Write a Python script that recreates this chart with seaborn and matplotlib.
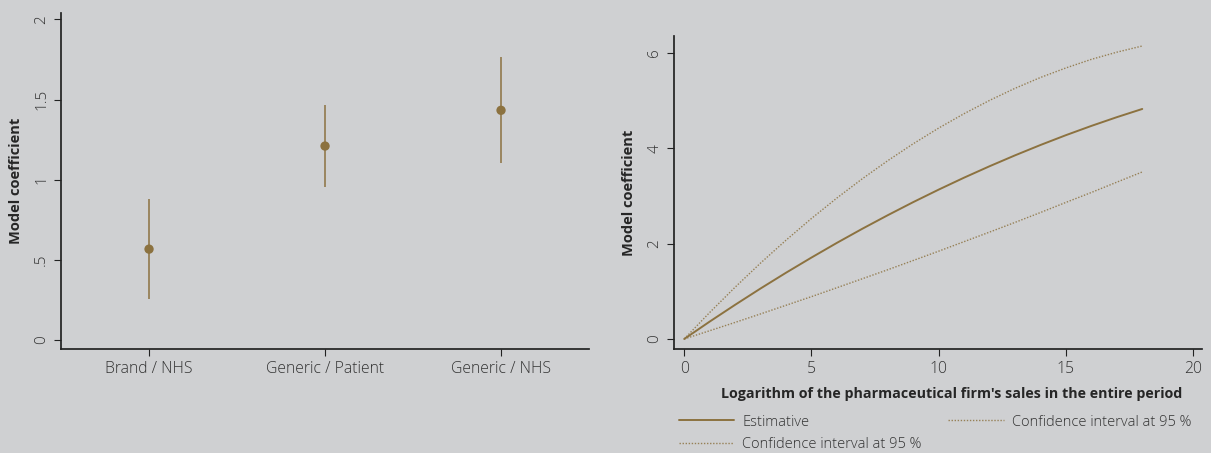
import numpy as np
import pandas as pd
import matplotlib
matplotlib.use("Agg")
import matplotlib.pyplot as plt
import seaborn as sns

# left panel: coefficient and 95% CI per group
groups = ["Brand / NHS", "Generic / Patient", "Generic / NHS"]
coef = [0.567, 1.21, 1.433]
ci_low = [0.255, 0.953, 1.103]
ci_high = [0.878, 1.464, 1.763]

# right panel: effect of log sales
log_sales = [0, 1, 2, 3, 4, 5, 6, 7, 8, 9, 10, 11, 12, 13, 14, 15, 16, 17, 18]
estimate = [0, 0.364, 0.716, 1.058, 1.388, 1.706, 2.014, 2.310, 2.594, 2.868,
            3.130, 3.381, 3.620, 3.848, 4.065, 4.271, 4.465, 4.648, 4.82]
upper = [0, 0.555, 1.085, 1.591, 2.070, 2.525, 2.954, 3.358, 3.737, 4.091,
         4.42, 4.722, 5.00, 5.253, 5.480, 5.68, 5.86, 6.01, 6.14]
lower = [0, 0.173, 0.347, 0.525, 0.706, 0.887, 1.074, 1.262, 1.451, 1.645,
         1.84, 2.04, 2.24, 2.443, 2.65, 2.862, 3.07, 3.286, 3.50]

bg = "#cfd0d2"
gold = "#8c7240"

sns.set_theme(style="ticks")
plt.rcParams["font.family"] = ["Open Sans", "DejaVu Sans"]
plt.rcParams["axes.facecolor"] = bg
plt.rcParams["figure.facecolor"] = bg
plt.rcParams["axes.edgecolor"] = "#222222"
plt.rcParams["xtick.color"] = "#222222"
plt.rcParams["ytick.color"] = "#222222"

fig = plt.figure(figsize=(12.11, 4.53), dpi=100)
ax1 = fig.add_axes([0.0504, 0.2296, 0.436, 0.7417])
ax2 = fig.add_axes([0.5566, 0.2296, 0.436, 0.691])

# left: points with CI whiskers
df = pd.DataFrame({"group": groups, "coef": coef})
ax1.vlines(range(len(groups)), ci_low, ci_high, color=gold, lw=1.1, zorder=2)
sns.scatterplot(data=df, x="group", y="coef", ax=ax1, color=gold, s=45,
                edgecolor="none", zorder=3)
ax1.set_xlim(-0.5, 2.5)
ax1.set_ylim(-0.056, 2.04)
ax1.set_yticks([0, 0.5, 1, 1.5, 2])
ax1.set_yticklabels(["0", ".5", "1", "1.5", "2"], rotation=90, va="center",
                    fontsize=11, fontweight="light", color="#333333")
ax1.set_xticks(range(len(groups)))
ax1.set_xticklabels(groups, fontsize=11.3, fontweight="light", color="#333333")
ax1.set_xlabel("")
ax1.set_ylabel("Model coefficient", fontsize=10.5, fontweight="bold", labelpad=8)
ax1.tick_params(length=5, width=0.8)
sns.despine(ax=ax1)

# right: estimate and CI curves
curves = pd.DataFrame({
    "x": log_sales * 3,
    "y": estimate + lower + upper,
    "kind": ["Estimative"] * len(log_sales) + ["lo"] * len(log_sales) + ["hi"] * len(log_sales),
})
sns.lineplot(data=curves[curves.kind == "Estimative"], x="x", y="y", ax=ax2,
             color=gold, lw=1.4, label="Estimative")
sns.lineplot(data=curves[curves.kind == "lo"], x="x", y="y", ax=ax2,
             color=gold, lw=1.0, alpha=0.85, ls=(0, (1, 1.2)), label="Confidence interval at 95 %")
sns.lineplot(data=curves[curves.kind == "hi"], x="x", y="y", ax=ax2,
             color=gold, lw=1.0, alpha=0.85, ls=(0, (1, 1.2)), label="Confidence interval at 95 %")
ax2.set_xlim(-0.4, 20.35)
ax2.set_ylim(-0.21, 6.35)
ax2.set_xticks([0, 5, 10, 15, 20])
ax2.set_yticks([0, 2, 4, 6])
ax2.set_xticklabels(["0", "5", "10", "15", "20"], fontsize=11.3, fontweight="light", color="#333333")
ax2.set_yticklabels(["0", "2", "4", "6"], rotation=90, va="center",
                    fontsize=11, fontweight="light", color="#333333")
ax2.set_ylabel("Model coefficient", fontsize=10.5, fontweight="bold", labelpad=8)
ax2.set_xlabel("Logarithm of the pharmaceutical firm's sales in the entire period",
               fontsize=10.3, fontweight="bold")
ax2.xaxis.set_label_coords(0.525, -0.12)
ax2.tick_params(length=5, width=0.8)
sns.despine(ax=ax2)
leg = ax2.legend(loc="upper left", bbox_to_anchor=(-0.005, -0.186), ncol=2, frameon=False,
                 handlelength=3.8, columnspacing=1.85, labelspacing=0.5,
                 handletextpad=0.55, borderpad=0,
                 prop={"size": 10.5, "weight": "light"})
for t in leg.get_texts():
    t.set_color("#333333")

fig.savefig("out.png", dpi=100, facecolor=bg)
